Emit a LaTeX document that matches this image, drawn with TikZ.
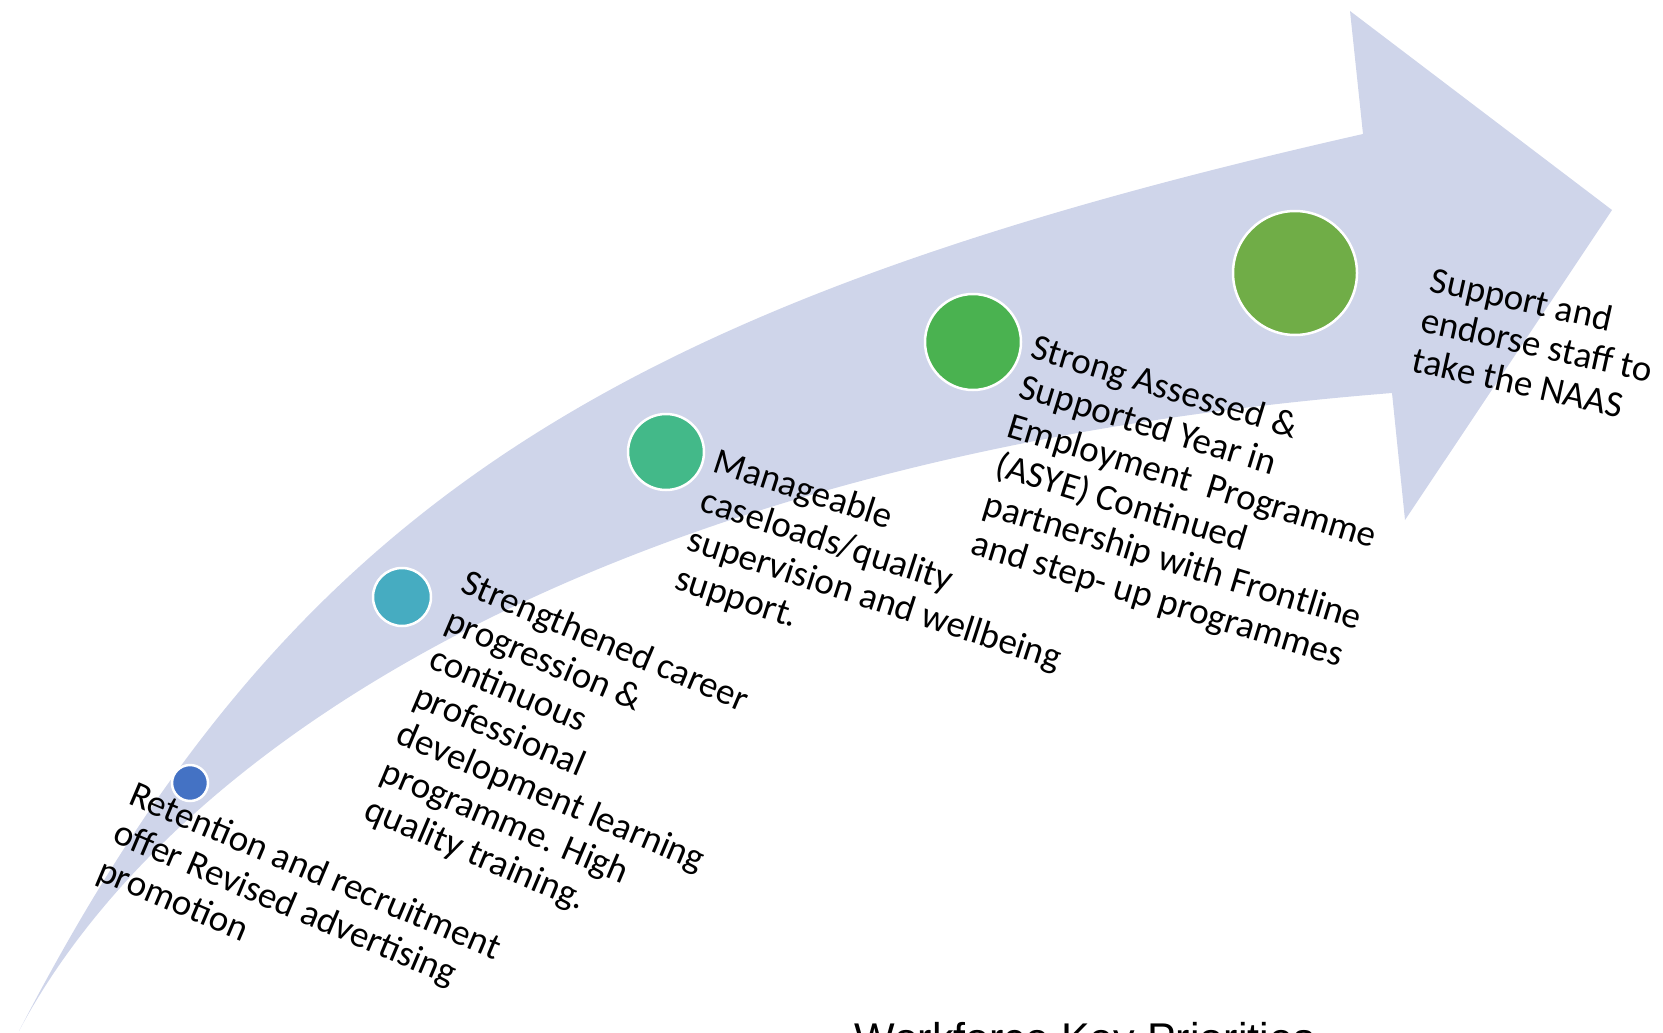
\documentclass[tikz,border=0pt]{standalone}
\usepackage{fontspec}
\setmainfont{Carlito}
\newfontfamily\titlefont{Liberation Sans}
\usetikzlibrary{positioning}
\definecolor{band}{RGB}{207,213,234}
\definecolor{stepA}{RGB}{68,114,196}
\definecolor{stepB}{RGB}{70,172,193}
\definecolor{stepC}{RGB}{67,185,137}
\definecolor{stepD}{RGB}{74,178,80}
\definecolor{stepE}{RGB}{112,173,71}

\begin{document}
\begin{tikzpicture}[x=1pt, y=-1pt,
        dot/.style={circle, draw=white, line width=2.5pt, inner sep=0pt},
        lbl/.style={anchor=north west, inner sep=0pt, align=left,
          font=\fontsize{37}{41}\selectfont}
        ]
  \useasboundingbox (0,0) rectangle (1663,1033);
  \fill[band] (19,1031) .. controls (288,512) and (602,306) .. (1363,134)
    -- (1350,11) -- (1612,210) -- (1405,520) -- (1392,393)
    .. controls (612,455) and (171,745) .. (19,1031) -- cycle;

  \node[dot, fill=stepA, minimum size=36pt] (p1) at (190,783) {};
  \node[dot, fill=stepB, minimum size=58pt] (p2) at (402,597) {};
  \node[dot, fill=stepC, minimum size=76pt] (p3) at (666,452) {};
  \node[dot, fill=stepD, minimum size=96pt] (p4) at (973,342) {};
  \node[dot, fill=stepE, minimum size=124pt] (p5) at (1295,273) {};

  \node[lbl, rotate=-23] (t1) at (137,780) {Retention and recruitment\\offer Revised advertising\\promotion};
  \node[lbl, rotate=-23] (t2) at (469,568) {Strengthened career\\progression \&\\continuous\\professional\\development learning\\programme. High\\quality training.};
  \node[lbl, rotate=-18] (t3) at (719,447) {Manageable\\caseloads/quality\\supervision and wellbeing\\support.};
  \node[lbl, rotate=-17] (t4) at (1037,333) {Strong Assessed \&\\Supported Year in\\Employment~ Programme\\(ASYE) Continued\\partnership with Frontline\\and step- up programmes};
  \node[lbl, rotate=-12.5] (t5) at (1434,266) {Support and\\endorse staff to\\take the NAAS};

  \node[anchor=base west, inner sep=0pt, font=\titlefont\fontsize{43}{50}\selectfont] (title) at (854,1053) {Workforce Key Priorities};
\end{tikzpicture}
\end{document}
